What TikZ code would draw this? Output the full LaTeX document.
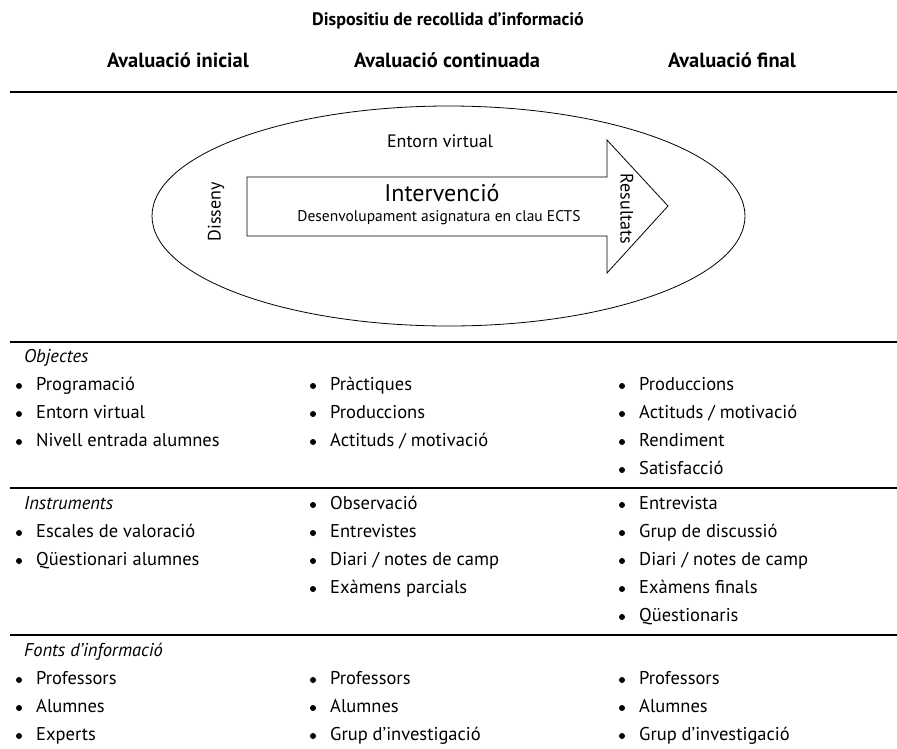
\documentclass[tikz,border=0pt]{standalone}
\usepackage{fontspec}
\setmainfont{PT Sans}
\usetikzlibrary{shapes.geometric}
\newcommand\myitem[4]{\node[dot] (#1d) at (#2,#3) {}; \node[it] (#1) at ([xshift=17pt]#2,#3) {#4};}
\begin{document}
\begin{tikzpicture}[x=1pt,y=-1pt,
  txt/.style={inner sep=0pt, font=\fontsize{18.5}{22}\selectfont, text height=13pt, text depth=4pt},
  it/.style={txt, anchor=west},
  sec/.style={it, font=\itshape\fontsize{18.5}{22}\selectfont},
  hd/.style={inner sep=0pt, font=\bfseries\fontsize{20.5}{24}\selectfont},
  rule/.style={line width=2.2pt},
  thin/.style={line width=0.8pt},
  dot/.style={circle, fill, inner sep=0pt, minimum size=6pt}]
\useasboundingbox (0,0) rectangle (897,748);
% titles
\node[hd, font=\bfseries\fontsize{18}{22}\selectfont] (title) at (448,21) {Dispositiu de recollida d’informació};
\node[hd] (h1) at (178,60) {Avaluació inicial};
\node[hd] (h2) at (447,60) {Avaluació continuada};
\node[hd] (h3) at (732,60) {Avaluació final};
% rules
\coordinate (r0l) at (10,92); \coordinate (r0r) at (897,92);
\coordinate (r1l) at (10,342); \coordinate (r1r) at (897,342);
\coordinate (r2l) at (10,488); \coordinate (r2r) at (897,488);
\coordinate (r3l) at (10,635); \coordinate (r3r) at (897,635);
\draw[rule] (r0l) -- (r0r);
\draw[rule] (r1l) -- (r1r);
\draw[rule] (r2l) -- (r2r);
\draw[rule] (r3l) -- (r3r);
% ellipse and arrow
\node[draw, thin, ellipse, inner sep=0pt, minimum width=593pt, minimum height=220pt] (ell) at (448.5,216) {};
\draw[thin, line join=miter] (247,177) -- (607,177) -- (607,140) -- (668,206) -- (607,273) -- (607,236) -- (247,236) -- cycle;
\node[txt, font=\fontsize{18}{22}\selectfont] (entorn) at (440,143) {Entorn virtual};
\node[inner sep=0pt, font=\fontsize{24}{28}\selectfont] (interv) at (442,193) {Intervenció};
\node[inner sep=0pt, font=\fontsize{15.5}{18}\selectfont] (desenv) at (439,218) {Desenvolupament asignatura en clau ECTS};
\node[txt, font=\fontsize{18}{22}\selectfont, rotate=90] (disseny) at (216,212) {Disseny};
\node[txt, font=\fontsize{18}{22}\selectfont, rotate=-90] (result) at (625,209) {Resultats};
% section 1
\node[sec] (s1) at (24,358) {Objectes};
\myitem{a1}{19}{386}{Programació}
\myitem{a2}{19}{414}{Entorn virtual}
\myitem{a3}{19}{442}{Nivell entrada alumnes}
\myitem{b1}{313}{386}{Pràctiques}
\myitem{b2}{313}{414}{Produccions}
\myitem{b3}{313}{442}{Actituds / motivació}
\myitem{c1}{622}{386}{Produccions}
\myitem{c2}{622}{414}{Actituds / motivació}
\myitem{c3}{622}{442}{Rendiment}
\myitem{c4}{622}{470}{Satisfacció}
% section 2
\node[sec] (s2) at (24,505) {Instruments};
\myitem{d1}{19}{533}{Escales de valoració}
\myitem{d2}{19}{561}{Qüestionari alumnes}
\myitem{e1}{313}{505}{Observació}
\myitem{e2}{313}{533}{Entrevistes}
\myitem{e3}{313}{561}{Diari / notes de camp}
\myitem{e4}{313}{589}{Exàmens parcials}
\myitem{f1}{622}{505}{Entrevista}
\myitem{f2}{622}{533}{Grup de discussió}
\myitem{f3}{622}{561}{Diari / notes de camp}
\myitem{f4}{622}{589}{Exàmens finals}
\myitem{f5}{622}{617}{Qüestionaris}
% section 3
\node[sec] (s3) at (24,652) {Fonts d’informació};
\myitem{g1}{19}{680}{Professors}
\myitem{g2}{19}{708}{Alumnes}
\myitem{g3}{19}{736}{Experts}
\myitem{h1i}{313}{680}{Professors}
\myitem{h2i}{313}{708}{Alumnes}
\myitem{h3i}{313}{736}{Grup d’investigació}
\myitem{k1}{622}{680}{Professors}
\myitem{k2}{622}{708}{Alumnes}
\myitem{k3}{622}{736}{Grup d’investigació}
\end{tikzpicture}
\end{document}
